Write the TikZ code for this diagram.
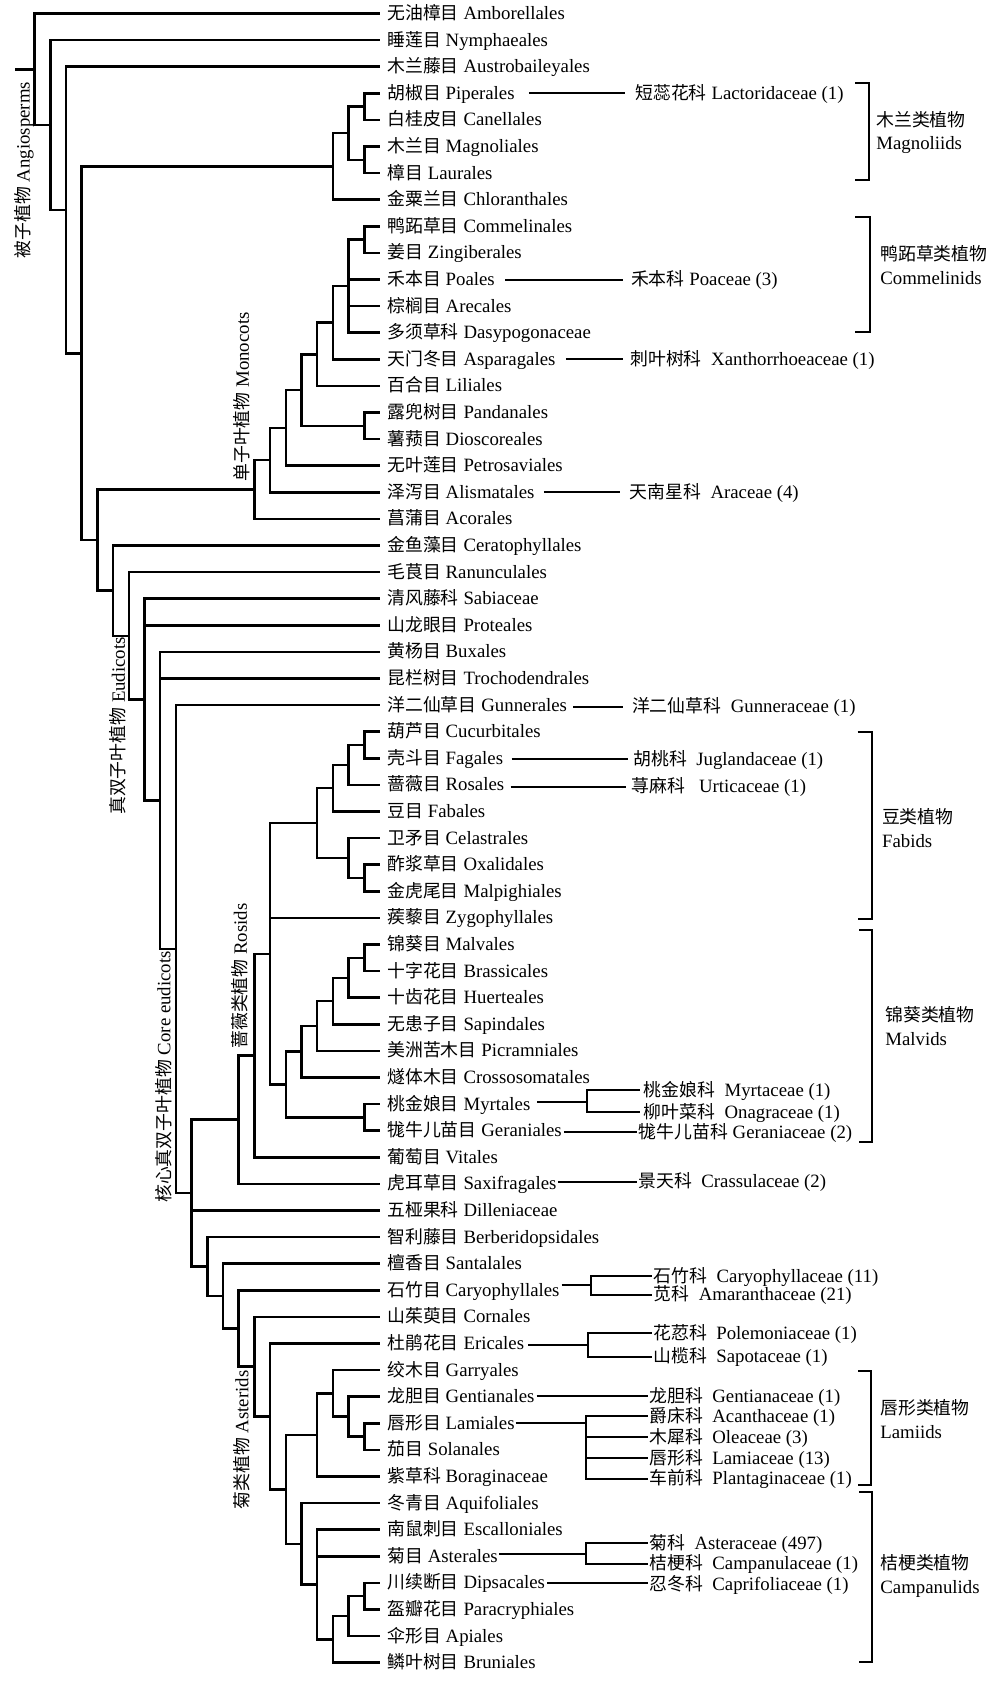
\documentclass[tikz,border=0pt]{standalone}
\usepackage{fontspec}
\setmainfont{Liberation Serif}
\newfontfamily\cjk{Noto Sans CJK SC}[Scale=0.95]
\usetikzlibrary{calc}
\newcommand\leaf[4]{\coordinate (L#1) at (380,#2); \node[lf] (T#1) at ($(L#1)+(7,6)$) {{\cjk #3} #4};}
\newcommand\clade[2]{\foreach \cc in {#2}{\draw[br] (#1) |- (\cc);}}
\begin{document}
\begin{tikzpicture}[x=0.5pt,y=-0.5pt,
  br/.style={line width=1.25pt},
  fl/.style={line width=1pt},
  bk/.style={line width=1pt},
  lf/.style={anchor=base west,inner sep=0pt,font=\fontsize{9.4}{11}\selectfont},
  rl/.style={rotate=90,inner sep=0pt,font=\fontsize{9.4}{11}\selectfont}]
\useasboundingbox (0,0) rectangle (1000,1683);
% leaves
\leaf{Amb}{13.5}{无油樟目}{Amborellales}
\leaf{Nym}{40.1}{睡莲目}{Nymphaeales}
\leaf{Aus}{66.7}{木兰藤目}{Austrobaileyales}
\leaf{Pip}{93.3}{胡椒目}{Piperales}
\leaf{Can}{119.9}{白桂皮目}{Canellales}
\leaf{Mag}{146.5}{木兰目}{Magnoliales}
\leaf{Lau}{173.1}{樟目}{Laurales}
\leaf{Chl}{199.7}{金粟兰目}{Chloranthales}
\leaf{Com}{226.3}{鸭跖草目}{Commelinales}
\leaf{Zin}{252.9}{姜目}{Zingiberales}
\leaf{Poa}{279.5}{禾本目}{Poales}
\leaf{Are}{306.1}{棕榈目}{Arecales}
\leaf{Das}{332.7}{多须草科}{Dasypogonaceae}
\leaf{Asp}{359.3}{天门冬目}{Asparagales}
\leaf{Lil}{385.9}{百合目}{Liliales}
\leaf{Pan}{412.5}{露兜树目}{Pandanales}
\leaf{Dio}{439.1}{薯蓣目}{Dioscoreales}
\leaf{Pet}{465.7}{无叶莲目}{Petrosaviales}
\leaf{Ali}{492.3}{泽泻目}{Alismatales}
\leaf{Aco}{518.9}{菖蒲目}{Acorales}
\leaf{Cer}{545.5}{金鱼藻目}{Ceratophyllales}
\leaf{Ran}{572.1}{毛茛目}{Ranunculales}
\leaf{Sab}{598.7}{清风藤科}{Sabiaceae}
\leaf{Pro}{625.3}{山龙眼目}{Proteales}
\leaf{Bux}{651.9}{黄杨目}{Buxales}
\leaf{Tro}{678.5}{昆栏树目}{Trochodendrales}
\leaf{Gun}{705.1}{洋二仙草目}{Gunnerales}
\leaf{Cuc}{731.7}{葫芦目}{Cucurbitales}
\leaf{Fag}{758.3}{壳斗目}{Fagales}
\leaf{Ros}{784.9}{蔷薇目}{Rosales}
\leaf{Fab}{811.5}{豆目}{Fabales}
\leaf{Cel}{838.1}{卫矛目}{Celastrales}
\leaf{Oxa}{864.7}{酢浆草目}{Oxalidales}
\leaf{Mal}{891.3}{金虎尾目}{Malpighiales}
\leaf{Zyg}{917.9}{蒺藜目}{Zygophyllales}
\leaf{Mav}{944.5}{锦葵目}{Malvales}
\leaf{Bra}{971.1}{十字花目}{Brassicales}
\leaf{Hue}{997.7}{十齿花目}{Huerteales}
\leaf{Sap}{1024.3}{无患子目}{Sapindales}
\leaf{Pic}{1050.9}{美洲苦木目}{Picramniales}
\leaf{Cro}{1077.5}{燧体木目}{Crossosomatales}
\leaf{Myr}{1104.1}{桃金娘目}{Myrtales}
\leaf{Ger}{1130.7}{牻牛儿苗目}{Geraniales}
\leaf{Vit}{1157.3}{葡萄目}{Vitales}
\leaf{Sax}{1183.9}{虎耳草目}{Saxifragales}
\leaf{Dil}{1210.5}{五桠果科}{Dilleniaceae}
\leaf{Ber}{1237.1}{智利藤目}{Berberidopsidales}
\leaf{San}{1263.7}{檀香目}{Santalales}
\leaf{Car}{1290.3}{石竹目}{Caryophyllales}
\leaf{Cor}{1316.9}{山茱萸目}{Cornales}
\leaf{Eri}{1343.5}{杜鹃花目}{Ericales}
\leaf{Gar}{1370.1}{绞木目}{Garryales}
\leaf{Gen}{1396.7}{龙胆目}{Gentianales}
\leaf{Lam}{1423.3}{唇形目}{Lamiales}
\leaf{Sol}{1449.9}{茄目}{Solanales}
\leaf{Bor}{1476.5}{紫草科}{Boraginaceae}
\leaf{Aqu}{1503.1}{冬青目}{Aquifoliales}
\leaf{Esc}{1529.7}{南鼠刺目}{Escalloniales}
\leaf{Ast}{1556.3}{菊目}{Asterales}
\leaf{Dip}{1582.9}{川续断目}{Dipsacales}
\leaf{Par}{1609.5}{盔瓣花目}{Paracryphiales}
\leaf{Api}{1636.1}{伞形目}{Apiales}
\leaf{Bru}{1662.7}{鳞叶树目}{Bruniales}
% internal nodes
\coordinate (root) at (15,69.3);
\coordinate (a1) at (34.6,69.3);
\coordinate (a2) at (50.3,125.05);
\coordinate (a3) at (66,210);
\coordinate (a4) at (81.7,353.3);
\coordinate (a5) at (97.4,540.1);
\coordinate (m1) at (332.9,166.45);
\coordinate (m2) at (348.6,133.2);
\coordinate (mPC) at (364.3,106.6);
\coordinate (mML) at (364.3,159.8);
\coordinate (mo1) at (254.4,489.5);
\coordinate (mo2) at (270.1,460.1);
\coordinate (mo3) at (285.8,427.9);
\coordinate (mo4) at (301.5,390.05);
\coordinate (mo5) at (317.2,354.3);
\coordinate (mo6) at (332.9,322.7);
\coordinate (cCom) at (348.6,286.15);
\coordinate (cCZ) at (364.3,239.6);
\coordinate (mPD) at (364.3,425.8);
\coordinate (e0) at (113.1,590.7);
\coordinate (e1) at (128.8,635.85);
\coordinate (e2) at (144.5,699.6);
\coordinate (e3) at (160.2,800.5);
\coordinate (e4) at (175.9,949.1);
\coordinate (c1) at (191.6,1193.15);
\coordinate (r0) at (238.7,1119.7);
\coordinate (r1) at (254.4,1055.55);
\coordinate (r2) at (270.1,953.8);
\coordinate (fab) at (317.2,823.1);
\coordinate (fF) at (332.9,788.2);
\coordinate (fR) at (348.6,764.95);
\coordinate (fCF) at (364.3,745);
\coordinate (fCel) at (348.6,858.05);
\coordinate (fOM) at (364.3,878);
\coordinate (mal) at (285.8,1084.55);
\coordinate (vC) at (301.5,1051.7);
\coordinate (vP) at (317.2,1025.95);
\coordinate (vS) at (332.9,1001);
\coordinate (vH) at (348.6,977.75);
\coordinate (vMB) at (364.3,957.8);
\coordinate (vMG) at (364.3,1117.4);
\coordinate (c2) at (207.3,1266.6);
\coordinate (c3) at (223,1296.1);
\coordinate (c4) at (238.7,1328.5);
\coordinate (as0) at (254.4,1366.7);
\coordinate (as1) at (270.1,1416.45);
\coordinate (as2) at (285.8,1489.4);
\coordinate (lam) at (317.2,1434.95);
\coordinate (lGa) at (332.9,1393.4);
\coordinate (lG) at (348.6,1416.65);
\coordinate (lLS) at (364.3,1436.6);
\coordinate (cam) at (301.5,1543.8);
\coordinate (kE) at (317.2,1584.55);
\coordinate (kB) at (332.9,1639.4);
\coordinate (kA) at (348.6,1616.15);
\coordinate (kDP) at (364.3,1596.2);
% branches
\draw[br] (root) -- (a1);
\clade{a1}{LAmb,a2}
\clade{a2}{LNym,a3}
\clade{a3}{LAus,a4}
\clade{a4}{m1,a5}
\clade{m1}{m2,LChl}
\clade{m2}{mPC,mML}
\clade{mPC}{LPip,LCan}
\clade{mML}{LMag,LLau}
\clade{a5}{mo1,e0}
\clade{mo1}{mo2,LAco}
\clade{mo2}{mo3,LAli}
\clade{mo3}{mo4,LPet}
\clade{mo4}{mo5,mPD}
\clade{mPD}{LPan,LDio}
\clade{mo5}{mo6,LLil}
\clade{mo6}{cCom,LAsp}
\clade{cCom}{cCZ,LPoa,LAre,LDas}
\clade{cCZ}{LCom,LZin}
\clade{e0}{LCer,e1}
\clade{e1}{LRan,e2}
\clade{e2}{LSab,LPro,e3}
\clade{e3}{LBux,LTro,e4}
\clade{e4}{LGun,c1}
\clade{c1}{r0,LDil,c2}
\clade{r0}{r1,LSax}
\clade{r1}{r2,LVit}
\clade{r2}{fab,LZyg,mal}
\clade{fab}{fF,fCel}
\clade{fF}{fR,LFab}
\clade{fR}{fCF,LRos}
\clade{fCF}{LCuc,LFag}
\clade{fCel}{LCel,fOM}
\clade{fOM}{LOxa,LMal}
\clade{mal}{vC,vMG}
\clade{vC}{vP,LCro}
\clade{vP}{vS,LPic}
\clade{vS}{vH,LSap}
\clade{vH}{vMB,LHue}
\clade{vMB}{LMav,LBra}
\clade{vMG}{LMyr,LGer}
\clade{c2}{LBer,c3}
\clade{c3}{LSan,c4}
\clade{c4}{LCar,as0}
\clade{as0}{LCor,as1}
\clade{as1}{LEri,as2}
\clade{as2}{lam,cam}
\clade{lam}{lGa,LBor}
\clade{lGa}{LGar,lG}
\clade{lG}{LGen,lLS}
\clade{lLS}{LLam,LSol}
\clade{cam}{LAqu,kE}
\clade{kE}{LEsc,LAst,kB}
\clade{kB}{kA,LBru}
\clade{kA}{kDP,LApi}
\clade{kDP}{LDip,LPar}
% clade labels (rotated)
\node[rl] (gAng) at (24,170) {{\cjk 被子植物} Angiosperms};
\node[rl] (gMon) at (242,397) {{\cjk 单子叶植物} Monocots};
\node[rl] (gEud) at (118,726) {{\cjk 真双子叶植物} Eudicots};
\node[rl] (gCor) at (163.5,1077) {{\cjk 核心真双子叶植物} Core eudicots};
\node[rl] (gRos) at (240,976) {{\cjk 蔷薇类植物} Rosids};
\node[rl] (gAst) at (241.5,1440) {{\cjk 菊类植物} Asterids};
% families
\coordinate (ePip) at (625,93.3);
\draw[fl] (TPip.east |- ePip) ++(14,0) -- (ePip);
\node[lf] (FLac) at (635,99.3) {{\cjk 短蕊花科} Lactoridaceae (1)};
\coordinate (ePoa) at (622.7,279.5);
\draw[fl] (TPoa.east |- ePoa) ++(10,0) -- (ePoa);
\node[lf] (FPoa) at (630.7,285.5) {{\cjk 禾本科} Poaceae (3)};
\coordinate (eAsp) at (623.3,359.3);
\draw[fl] (TAsp.east |- eAsp) ++(10,0) -- (eAsp);
\node[lf] (FXan) at (630,365.3) {{\cjk 刺叶树科}~~Xanthorrhoeaceae (1)};
\coordinate (eAli) at (620,492);
\draw[fl] (TAli.east |- eAli) ++(9,0) -- (eAli);
\node[lf] (FAra) at (629.3,498.3) {{\cjk 天南星科}~~Araceae (4)};
\coordinate (eGun) at (623.3,706.5);
\draw[fl] (TGun.east |- eGun) ++(6,0) -- (eGun);
\node[lf] (FGun) at (631.7,712.5) {{\cjk 洋二仙草科}~~Gunneraceae (1)};
\coordinate (eFag) at (628.3,759);
\draw[fl] (TFag.east |- eFag) ++(8,0) -- (eFag);
\node[lf] (FJug) at (633,765) {{\cjk 胡桃科}~~Juglandaceae (1)};
\coordinate (eRos) at (626,786.5);
\draw[fl] (TRos.east |- eRos) ++(6,0) -- (eRos);
\node[lf] (FUrt) at (631,792.5) {{\cjk 荨麻科}~~~Urticaceae (1)};
\coordinate (jMyr) at (587.3,1102);
\coordinate (eMyr1) at (640,1090);
\coordinate (eMyr2) at (640,1112.3);
\draw[fl] (TMyr.east |- jMyr) ++(6.7,0) -- (jMyr);
\draw[fl] (jMyr) |- (eMyr1);
\draw[fl] (jMyr) |- (eMyr2);
\node[lf] (FMyr) at (643.3,1096.5) {{\cjk 桃金娘科}~~Myrtaceae (1)};
\node[lf] (FOna) at (643.3,1118) {{\cjk 柳叶菜科}~~Onagraceae (1)};
\coordinate (eGer) at (636.7,1132.3);
\draw[fl] (TGer.east |- eGer) ++(1.6,0) -- (eGer);
\node[lf] (FGer) at (638.3,1138.3) {{\cjk 牻牛儿苗科} Geraniaceae (2)};
\coordinate (eSax) at (636.7,1181.5);
\draw[fl] (TSax.east |- eSax) ++(1,0) -- (eSax);
\node[lf] (FCra) at (638,1187.5) {{\cjk 景天科}~~Crassulaceae (2)};
\coordinate (jCar) at (590.7,1285);
\coordinate (eCar1) at (651.7,1276);
\coordinate (eCar2) at (651.7,1294.5);
\draw[fl] (TCar.east |- jCar) ++(1.7,0) -- (jCar);
\draw[fl] (jCar) |- (eCar1);
\draw[fl] (jCar) |- (eCar2);
\node[lf] (FCar) at (653.3,1282) {{\cjk 石竹科}~~Caryophyllaceae (11)};
\node[lf] (FAma) at (653.3,1300.5) {{\cjk 苋科}~~Amaranthaceae (21)};
\coordinate (jEri) at (588.3,1345);
\coordinate (eEri1) at (651.7,1333.3);
\coordinate (eEri2) at (651.7,1356.7);
\draw[fl] (TEri.east |- jEri) ++(4,0) -- (jEri);
\draw[fl] (jEri) |- (eEri1);
\draw[fl] (jEri) |- (eEri2);
\node[lf] (FPol) at (653,1339.5) {{\cjk 花荵科}~~Polemoniaceae (1)};
\node[lf] (FSpt) at (653,1362.7) {{\cjk 山榄科}~~Sapotaceae (1)};
\coordinate (eGen) at (648.3,1395.7);
\draw[fl] (TGen.east |- eGen) ++(1.7,0) -- (eGen);
\node[lf] (FGen) at (649,1402) {{\cjk 龙胆科}~~Gentianaceae (1)};
\coordinate (jLam) at (586,1423.3);
\coordinate (eLam1) at (648.3,1416);
\coordinate (eLam2) at (648.3,1437);
\coordinate (eLam3) at (648.3,1458);
\coordinate (eLam4) at (648.3,1478.5);
\draw[fl] (TLam.east |- jLam) ++(0.7,0) -- (jLam);
\foreach \cc in {eLam1,eLam2,eLam3,eLam4}{\draw[fl] (jLam) |- (\cc);}
\node[lf] (FAca) at (649,1422) {{\cjk 爵床科}~~Acanthaceae (1)};
\node[lf] (FOle) at (649,1443) {{\cjk 木犀科}~~Oleaceae (3)};
\node[lf] (FLmc) at (649,1464) {{\cjk 唇形科}~~Lamiaceae (13)};
\node[lf] (FPla) at (649,1484.5) {{\cjk 车前科}~~Plantaginaceae (1)};
\coordinate (jAst) at (586,1554);
\coordinate (eAst1) at (648.3,1543);
\coordinate (eAst2) at (648.3,1564);
\draw[fl] (TAst.east |- jAst) ++(1,0) -- (jAst);
\draw[fl] (jAst) |- (eAst1);
\draw[fl] (jAst) |- (eAst2);
\node[lf] (FAsc) at (649,1549) {{\cjk 菊科}~~Asteraceae (497)};
\node[lf] (FCam) at (649,1569.5) {{\cjk 桔梗科}~~Campanulaceae (1)};
\coordinate (eDip) at (648.3,1583);
\draw[fl] (TDip.east |- eDip) ++(1.7,0) -- (eDip);
\node[lf] (FCap) at (649,1590.5) {{\cjk 忍冬科}~~Caprifoliaceae (1)};
% brackets
\coordinate (bMag1) at (855,82.7); \coordinate (bMag2) at (855,180);
\draw[bk] (bMag1) -- ++(14.3,0) |- (bMag2);
\node[lf] (gMagC) at (876,126.5) {\cjk 木兰类植物};
\node[lf] (gMagE) at (876,149.2) {Magnoliids};
\coordinate (bCom1) at (855,216.7); \coordinate (bCom2) at (855,331.7);
\draw[bk] (bCom1) -- ++(15,0) |- (bCom2);
\node[lf] (gComC) at (880,260.5) {\cjk 鸭跖草类植物};
\node[lf] (gComE) at (880,284.2) {Commelinids};
\coordinate (bFab1) at (857.7,732.3); \coordinate (bFab2) at (857.7,919.3);
\draw[bk] (bFab1) -- ++(14.6,0) |- (bFab2);
\node[lf] (gFabC) at (881.7,823.2) {\cjk 豆类植物};
\node[lf] (gFabE) at (881.7,847.2) {Fabids};
\coordinate (bMal1) at (859,930); \coordinate (bMal2) at (859,1142.3);
\draw[bk] (bMal1) -- ++(13.3,0) |- (bMal2);
\node[lf] (gMalC) at (885,1021.5) {\cjk 锦葵类植物};
\node[lf] (gMalE) at (885,1045.8) {Malvids};
\coordinate (bLam1) at (858.3,1371); \coordinate (bLam2) at (858.3,1485);
\draw[bk] (bLam1) -- ++(12.7,0) |- (bLam2);
\node[lf] (gLamC) at (880,1414.8) {\cjk 唇形类植物};
\node[lf] (gLamE) at (880,1438.2) {Lamiids};
\coordinate (bCam1) at (859.3,1492.3); \coordinate (bCam2) at (859.3,1662.3);
\draw[bk] (bCam1) -- ++(13,0) |- (bCam2);
\node[lf] (gCamC) at (880,1569.8) {\cjk 桔梗类植物};
\node[lf] (gCamE) at (880,1593.2) {Campanulids};
\end{tikzpicture}
\end{document}
